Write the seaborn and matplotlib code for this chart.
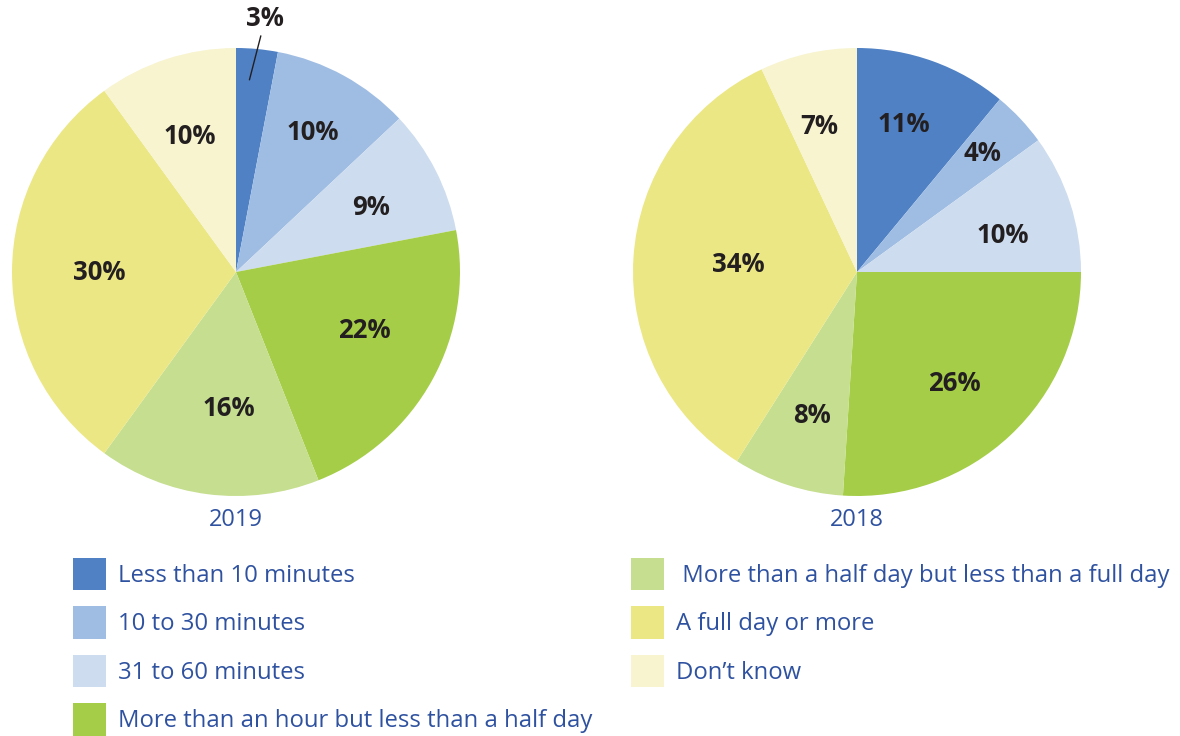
import numpy as np
import matplotlib
matplotlib.use("Agg")
import matplotlib.pyplot as plt
import seaborn as sns

categories = [
    "Less than 10 minutes",
    "10 to 30 minutes",
    "31 to 60 minutes",
    "More than an hour but less than a half day",
    " More than a half day but less than a full day",
    "A full day or more",
    "Don\u2019t know",
]
values_2019 = [3, 10, 9, 22, 16, 30, 10]
values_2018 = [11, 4, 10, 26, 8, 34, 7]
years = ["2019", "2018"]

colors = ["#4f81c4", "#9fbde3", "#cddcee", "#a5cd48", "#c5de8f", "#ece785", "#f7f4cf"]

# radial position of each percentage label (fraction of the radius)
label_dist_2019 = [1.14, 0.71, 0.67, 0.63, 0.61, 0.61, 0.64]
label_dist_2018 = [0.69, 0.77, 0.67, 0.66, 0.67, 0.53, 0.67]
# small angular nudges (degrees) for labels
label_nudge_2019 = [-1, 0, -1.5, 4.5, 4, 0, 1]
label_nudge_2018 = [2, 0, -4, -2, 0.5, 0, 2]

sns.set_theme(style="white")
plt.rcParams["font.family"] = ["Open Sans", "DejaVu Sans"]

W, H = 1180, 736
fig = plt.figure(figsize=(W / 100, H / 100), dpi=100)
fig.patch.set_facecolor("white")

text_dark = "#231f20"
blue_text = "#2f52a0"
R = 224


def draw_pie(cx, cy, vals, dists, nudges, year, leader=None):
    ax = fig.add_axes([(cx - R) / W, 1 - (cy + R) / H, 2 * R / W, 2 * R / H])
    ax.pie(vals, colors=colors, startangle=90, counterclock=False, radius=1,
           wedgeprops=dict(linewidth=0))
    ax.set_xlim(-1, 1)
    ax.set_ylim(-1, 1)
    ax.set_aspect("equal")
    ax.axis("off")
    total = float(sum(vals))
    cum = np.cumsum([0] + list(vals))
    for i, v in enumerate(vals):
        mid = 90 - 360 * (cum[i] + v / 2) / total + nudges[i]
        th = np.deg2rad(mid)
        d = dists[i]
        ax.text(d * np.cos(th), d * np.sin(th), f"{v}%", ha="center", va="center",
                fontsize=18.5, fontweight="bold", color=text_dark, clip_on=False)
        if leader is not None and i == leader:
            ax.plot([0.86 * np.cos(np.deg2rad(86)), 1.06 * np.cos(np.deg2rad(84))],
                    [0.86 * np.sin(np.deg2rad(86)), 1.06 * np.sin(np.deg2rad(84))],
                    color=text_dark, lw=1, clip_on=False)
    fig.text(cx / W, 1 - 520 / H, year, ha="center", va="center",
             fontsize=17, color=blue_text)
    return ax


ax1 = draw_pie(236, 272, values_2019, label_dist_2019, label_nudge_2019, years[0], leader=0)
ax2 = draw_pie(857, 272, values_2018, label_dist_2018, label_nudge_2018, years[1])

handles = [plt.Rectangle((0, 0), 1, 1, facecolor=c, edgecolor="none") for c in colors]
common = dict(loc="upper left", frameon=False, borderpad=0, borderaxespad=0,
              handlelength=1.4, handleheight=1.7, handletextpad=0.5,
              labelspacing=0.68, prop={"size": 17.2, "family": ["Open Sans", "DejaVu Sans"]},
              labelcolor=blue_text)
leg1 = fig.legend(handles[:4], categories[:4], bbox_to_anchor=(73 / W, 1 - 558 / H), **common)
leg2 = fig.legend(handles[4:], categories[4:], bbox_to_anchor=(631 / W, 1 - 558 / H), **common)

fig.savefig("out.png", dpi=100, facecolor="white")
